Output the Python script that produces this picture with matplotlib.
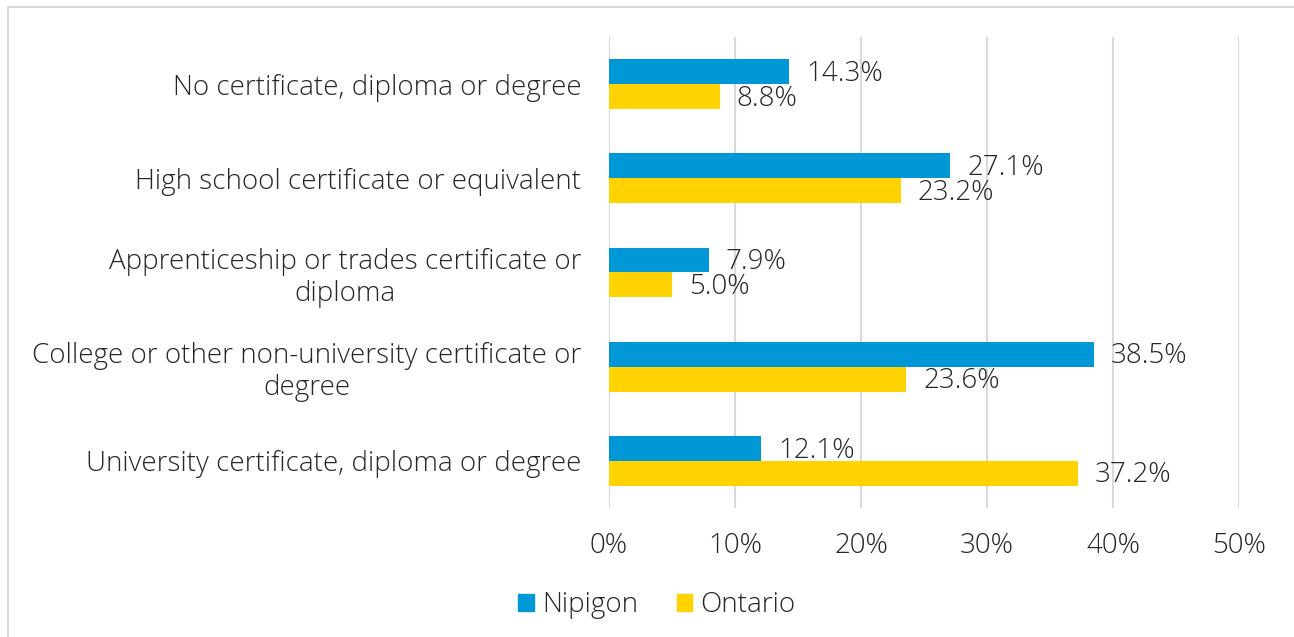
import matplotlib
matplotlib.use("Agg")
import matplotlib.pyplot as plt
from matplotlib.patches import Rectangle
from matplotlib.lines import Line2D
import numpy as np

categories = [
    "No certificate, diploma or degree",
    "High school certificate or equivalent",
    "Apprenticeship or trades certificate or\ndiploma",
    "College or other non-university certificate or\ndegree",
    "University certificate, diploma or degree",
]
nipigon = [14.3, 27.1, 7.9, 38.5, 12.1]
ontario = [8.8, 23.2, 5.0, 23.6, 37.2]
series_names = ["Nipigon", "Ontario"]
xticks = [0, 10, 20, 30, 40, 50]

BLUE = "#0097D6"
YELLOW = "#FFD200"
TEXT = "#262626"

plt.rcParams['font.family'] = ['Open Sans', 'DejaVu Sans']
WT = "light"

fig = plt.figure(figsize=(12.94, 6.37), dpi=100)
W, H = 1294, 637
ax = fig.add_axes([609 / W, 1 - 508 / H, (1239 - 609) / W, (508 - 37) / H])

y = np.arange(len(categories))
bh = 0.265
ax.barh(y - bh / 2, nipigon, height=bh, color=BLUE, label=series_names[0], zorder=3)
ax.barh(y + bh / 2, ontario, height=bh, color=YELLOW, label=series_names[1], zorder=3)

fs = 20
for i in range(len(categories)):
    ax.annotate(f"{nipigon[i]:.1f}%", (nipigon[i], y[i] - bh / 2), xytext=(12, -1.5),
                textcoords="offset points", va="center", ha="left", fontsize=fs,
                color=TEXT, fontweight=WT)
    ax.annotate(f"{ontario[i]:.1f}%", (ontario[i], y[i] + bh / 2), xytext=(12, -1.5),
                textcoords="offset points", va="center", ha="left", fontsize=fs,
                color=TEXT, fontweight=WT)

ax.set_ylim(len(categories) - 0.5, -0.5)
ax.set_xlim(0, 50)
ax.set_xticks(xticks)
ax.set_xticklabels([f"{t}%" for t in xticks], fontsize=fs, color=TEXT, fontweight=WT)
ax.set_yticks(y)
ax.set_yticklabels(categories, fontsize=fs, color=TEXT, fontweight=WT,
                   ha="right", multialignment="center", linespacing=1.17)
ax.tick_params(axis="both", length=0)
ax.tick_params(axis="x", pad=17)
ax.tick_params(axis="y", pad=20)
ax.grid(axis="x", color="#D9D9D9", linewidth=1.5, zorder=0)
for s in ax.spines.values():
    s.set_visible(False)

handles = [Rectangle((0, 0), 1, 1, color=BLUE), Rectangle((0, 0), 1, 1, color=YELLOW)]
fig.legend(handles, series_names, loc="center", bbox_to_anchor=(657 / W, 1 - 605 / H),
           ncol=2, frameon=False, handlelength=0.55, handleheight=0.55,
           handletextpad=0.3, columnspacing=1.4, labelcolor=TEXT,
           prop={'size': fs, 'weight': WT})

# figure border (top and left)
fig.add_artist(Line2D([8 / W, 1293 / W], [1 - 7 / H, 1 - 7 / H], color="#D9D9D9", linewidth=1.5))
fig.add_artist(Line2D([8 / W, 8 / W], [1 - 7 / H, 0], color="#D9D9D9", linewidth=1.5))

fig.savefig("out.png", dpi=100)
